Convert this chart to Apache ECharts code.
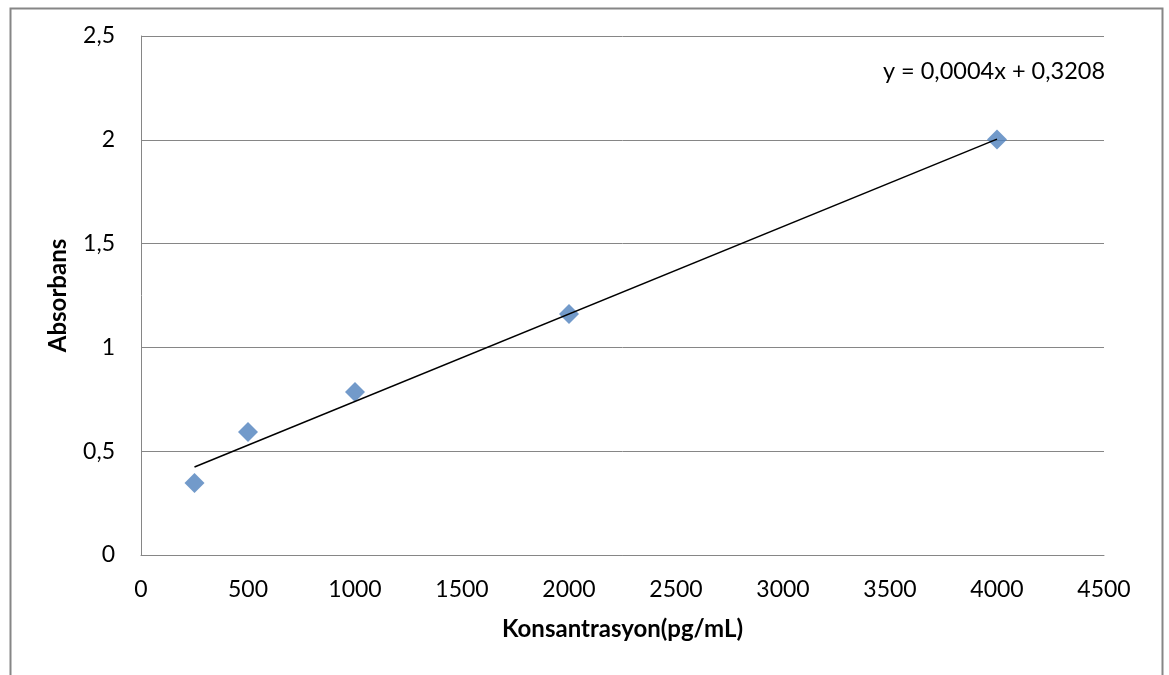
<!DOCTYPE html>
<html>
<head>
<meta charset="utf-8">
<script src="https://cdn.jsdelivr.net/npm/echarts@6/dist/echarts.min.js"></script>
<style>html,body{margin:0;padding:0;background:#fff;}#c{width:1169px;height:675px;}</style>
</head>
<body>
<div id="c"></div>
<script>
const concentrations = [250, 500, 1000, 2000, 4000];
const absorbance = [0.347, 0.592, 0.785, 1.161, 2.002];
const trendX = [250, 4000];
const trendY = [0.424, 2.003];
const equationLabel = 'y = 0,0004x + 0,3208';
const xTitle = 'Konsantrasyon(pg/mL)';
const yTitle = 'Absorbans';

const FONT = 'Lato';
const chart = echarts.init(document.getElementById('c'), null, {renderer: 'canvas'});
const fmt = v => String(v).replace('.', ',');
chart.setOption({
  animation: false,
  backgroundColor: '#fff',
  grid: {left: 141, top: 36, right: 65, bottom: 120},
  xAxis: {
    type: 'value', min: 0, max: 4500, interval: 500,
    name: xTitle, nameLocation: 'middle', nameGap: 62,
    nameTextStyle: {fontFamily: FONT, fontWeight: 'bold', fontSize: 24, color: '#000'},
    axisLine: {show: true, lineStyle: {color: '#868686', width: 1}},
    axisTick: {show: false},
    splitLine: {show: false},
    axisLabel: {fontFamily: FONT, fontSize: 23, color: '#000', margin: 23, formatter: fmt}
  },
  yAxis: {
    type: 'value', min: 0, max: 2.5, interval: 0.5,
    name: yTitle, nameLocation: 'middle', nameGap: 71, nameRotate: 90,
    nameTextStyle: {fontFamily: FONT, fontWeight: 'bold', fontSize: 24, color: '#000'},
    axisLine: {show: true, lineStyle: {color: '#868686', width: 1}},
    axisTick: {show: false},
    splitLine: {show: true, lineStyle: {color: '#868686', width: 1}},
    axisLabel: {fontFamily: FONT, fontSize: 23, color: '#000', margin: 26, formatter: fmt}
  },
  series: [
    {
      type: 'scatter', symbol: 'diamond', symbolSize: 20,
      itemStyle: {color: '#4F81BD'},
      data: concentrations.map((x, i) => [x, absorbance[i]]),
      z: 2
    },
    {
      type: 'line', showSymbol: false, symbol: 'none',
      lineStyle: {color: '#000', width: 1.5},
      data: trendX.map((x, i) => [x, trendY[i]]),
      z: 3
    }
  ],
  graphic: [
    {type: 'rect', left: 8, top: 6, z: -10,
      shape: {width: 1152, height: 720},
      style: {fill: 'none', stroke: '#868686', lineWidth: 2}},
    {type: 'text', x: 994, y: 71, z: 10,
      style: {text: equationLabel, fontFamily: FONT, fontSize: 23.5, fill: '#000', align: 'center', verticalAlign: 'middle'}}
  ]
});
</script>
</body>
</html>
